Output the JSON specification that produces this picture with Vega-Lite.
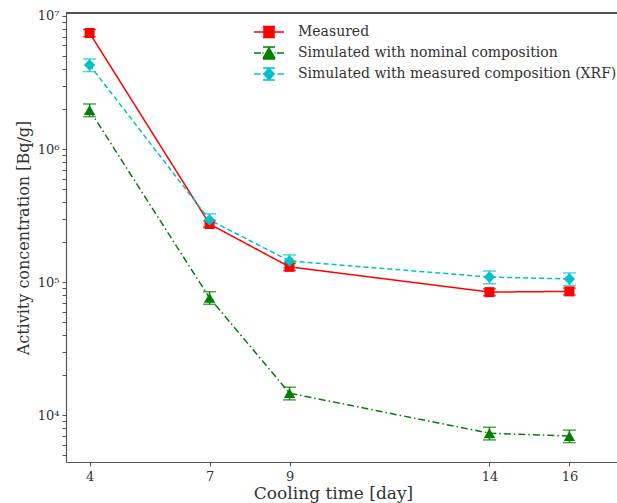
{
  "$schema": "https://vega.github.io/schema/vega-lite/v6.json",
  "width": 551,
  "height": 449,
  "autosize": "none",
  "padding": {"left": 66, "top": 13, "right": 0, "bottom": 41},
  "background": "white",
  "config": {
    "view": {"stroke": null},
    "font": "DejaVu Serif",
    "axis": {
      "labelFont": "DejaVu Serif",
      "titleFont": "DejaVu Serif",
      "labelColor": "#333333",
      "titleColor": "#333333",
      "domainColor": "#555555",
      "tickColor": "#555555",
      "domainWidth": 1.2,
      "tickWidth": 1,
      "grid": false,
      "labelFontSize": 13,
      "titleFontSize": 16,
      "titleFontWeight": "normal"
    },
    "legend": {"labelFont": "DejaVu Serif"}
  },
  "data": {
    "values": [
      {"series": "Measured", "day": 4, "value": 7450000, "lo": 7000000, "hi": 7900000},
      {"series": "Measured", "day": 7, "value": 273000, "lo": 257000, "hi": 289000},
      {"series": "Measured", "day": 9, "value": 130000, "lo": 122000, "hi": 138000},
      {"series": "Measured", "day": 14, "value": 84000, "lo": 79000, "hi": 89000},
      {"series": "Measured", "day": 16, "value": 85000, "lo": 80000, "hi": 90000},
      {"series": "Simulated with nominal composition", "day": 4, "value": 1960000, "lo": 1750000, "hi": 2180000},
      {"series": "Simulated with nominal composition", "day": 7, "value": 76000, "lo": 68000, "hi": 84500},
      {"series": "Simulated with nominal composition", "day": 9, "value": 14600, "lo": 13000, "hi": 16200},
      {"series": "Simulated with nominal composition", "day": 14, "value": 7300, "lo": 6500, "hi": 8100},
      {"series": "Simulated with nominal composition", "day": 16, "value": 6950, "lo": 6200, "hi": 7700},
      {"series": "Simulated with measured composition (XRF)", "day": 4, "value": 4280000, "lo": 3820000, "hi": 4750000},
      {"series": "Simulated with measured composition (XRF)", "day": 7, "value": 293000, "lo": 261000, "hi": 325000},
      {"series": "Simulated with measured composition (XRF)", "day": 9, "value": 144000, "lo": 128000, "hi": 160000},
      {"series": "Simulated with measured composition (XRF)", "day": 14, "value": 109000, "lo": 97000, "hi": 121000},
      {"series": "Simulated with measured composition (XRF)", "day": 16, "value": 105500, "lo": 94000, "hi": 117000}
    ]
  },
  "encoding": {
    "x": {
      "field": "day", "type": "quantitative",
      "scale": {"domain": [3.41, 17.19], "nice": false, "zero": false},
      "axis": {
        "orient": "bottom",
        "values": [4, 7, 9, 14, 16],
        "title": "Cooling time [day]",
        "titleFontSize": 17,
        "titleX": 267,
        "tickSize": 4,
        "labelPadding": 4,
        "titlePadding": 2
      }
    },
    "y": {
      "field": "value", "type": "quantitative",
      "scale": {"type": "log", "domain": [4436, 10530000], "nice": false},
      "axis": {
        "title": "Activity concentration [Bq/g]",
        "values": [5000, 6000, 7000, 8000, 9000, 10000, 20000, 30000, 40000, 50000, 60000, 70000, 80000, 90000, 100000, 200000, 300000, 400000, 500000, 600000, 700000, 800000, 900000, 1000000, 2000000, 3000000, 4000000, 5000000, 6000000, 7000000, 8000000, 9000000, 10000000],
        "labelExpr": "datum.value == 10000 ? '10⁴' : datum.value == 100000 ? '10⁵' : datum.value == 1000000 ? '10⁶' : datum.value == 10000000 ? '10⁷' : ''",
        "tickSize": 4,
        "labelPadding": 3,
        "titlePadding": 6
      }
    }
  },
  "layer": [
    {
      "mark": {"type": "line", "strokeWidth": 1.5},
      "encoding": {
        "color": {
          "field": "series", "type": "nominal",
          "scale": {
            "domain": ["Simulated with nominal composition", "Measured", "Simulated with measured composition (XRF)"],
            "range": ["#008000", "#ff0000", "#00c2c8"]
          },
          "legend": null
        },
        "strokeDash": {
          "field": "series", "type": "nominal",
          "scale": {
            "domain": ["Simulated with measured composition (XRF)", "Measured", "Simulated with nominal composition"],
            "range": [[5, 3], [1, 0], [7, 3, 1.5, 3]]
          },
          "legend": null
        }
      }
    },
    {
      "mark": {"type": "rule", "strokeWidth": 1.5},
      "encoding": {
        "y": {"field": "lo", "type": "quantitative"},
        "y2": {"field": "hi"},
        "color": {"field": "series", "type": "nominal", "legend": null}
      }
    },
    {
      "mark": {"type": "tick", "orient": "horizontal", "size": 13, "thickness": 1.5},
      "encoding": {
        "y": {"field": "lo", "type": "quantitative"},
        "color": {"field": "series", "type": "nominal", "legend": null}
      }
    },
    {
      "mark": {"type": "tick", "orient": "horizontal", "size": 13, "thickness": 1.5},
      "encoding": {
        "y": {"field": "hi", "type": "quantitative"},
        "color": {"field": "series", "type": "nominal", "legend": null}
      }
    },
    {
      "transform": [{"filter": "datum.series == 'Measured'"}],
      "mark": {"type": "point", "shape": "square", "size": 100, "filled": true, "opacity": 1},
      "encoding": {"color": {"field": "series", "type": "nominal", "legend": null}}
    },
    {
      "transform": [{"filter": "datum.series == 'Simulated with nominal composition'"}],
      "mark": {"type": "point", "shape": "triangle-up", "size": 130, "filled": true, "opacity": 1},
      "encoding": {"color": {"field": "series", "type": "nominal", "legend": null}}
    },
    {
      "transform": [{"filter": "datum.series == 'Simulated with measured composition (XRF)'"}],
      "mark": {"type": "point", "shape": "diamond", "size": 130, "filled": true, "opacity": 1},
      "encoding": {"color": {"field": "series", "type": "nominal", "legend": null}}
    },
    {
      "mark": {"type": "rule", "color": "#555555", "strokeWidth": 1.2},
      "encoding": {
        "x": {"datum": 3.41},
        "x2": {"datum": 17.19},
        "y": {"datum": 10530000}
      }
    },
    {
      "mark": {"type": "point", "opacity": 0, "size": 400},
      "encoding": {
        "fill": {
          "field": "series", "type": "nominal",
          "scale": {
            "domain": ["Measured", "Simulated with nominal composition", "Simulated with measured composition (XRF)"],
            "range": ["#ff0000", "#008000", "#00c2c8"]
          },
          "legend": {
            "title": null, "orient": "none", "legendX": 192, "legendY": 8,
            "symbolSize": 400, "symbolStrokeWidth": 1.5,
            "labelFontSize": 14, "labelColor": "#333333", "labelOffset": 18,
            "rowPadding": 1, "padding": 0, "labelLimit": 400,
            "encode": {"symbols": {"update": {"fill": {"scale": "fill", "field": "value"}}}}
          }
        },
        "stroke": {
          "field": "series", "type": "nominal",
          "scale": {
            "domain": ["Measured", "Simulated with nominal composition", "Simulated with measured composition (XRF)"],
            "range": ["#ff0000", "#008000", "#00c2c8"]
          },
          "legend": {
            "title": null, "orient": "none", "legendX": 192, "legendY": 8,
            "symbolSize": 400, "symbolStrokeWidth": 1.5,
            "labelFontSize": 14, "labelColor": "#333333", "labelOffset": 18,
            "rowPadding": 1, "padding": 0, "labelLimit": 400,
            "encode": {"symbols": {"update": {"fill": {"scale": "fill", "field": "value"}}}}
          }
        },
        "shape": {
          "field": "series", "type": "nominal",
          "scale": {
            "domain": ["Measured", "Simulated with nominal composition", "Simulated with measured composition (XRF)"],
            "range": [
              "M-1.5,0H1.5M-0.5,-0.5H0.5V0.5H-0.5ZM-0.6,-0.55H0.6M-0.6,0.55H0.6",
              "M-1.5,0H-0.8M-0.65,0H-0.55M0.55,0H0.65M0.8,0H1.5M0,-0.5L0.55,0.45H-0.55ZM0,-0.6V0.6M-0.6,-0.6H0.6M-0.6,0.6H0.6",
              "M-1.5,0H-0.85M-0.6,0H0.6M0.85,0H1.5M0,-0.6L0.5,0L0,0.6L-0.5,0ZM0,-0.6V0.6M-0.6,-0.6H0.6M-0.6,0.6H0.6"
            ]
          },
          "legend": {
            "title": null, "orient": "none", "legendX": 192, "legendY": 8,
            "symbolSize": 400, "symbolStrokeWidth": 1.5,
            "labelFontSize": 14, "labelColor": "#333333", "labelOffset": 18,
            "rowPadding": 1, "padding": 0, "labelLimit": 400,
            "encode": {"symbols": {"update": {"fill": {"scale": "fill", "field": "value"}}}}
          }
        }
      }
    }
  ]
}
